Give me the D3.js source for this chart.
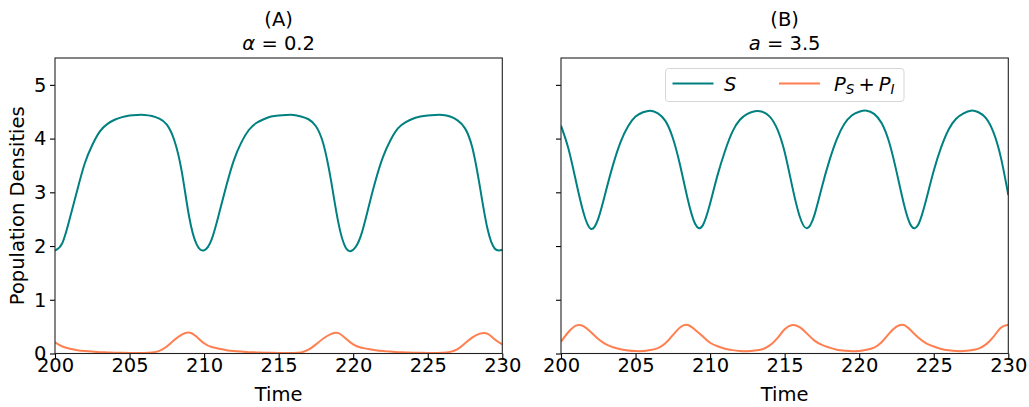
<!DOCTYPE html>
<html>
<head>
<meta charset="utf-8">
<script src="https://cdn.jsdelivr.net/npm/d3@7"></script>
<style>
body { margin: 0; background: #fff; }
text { font-family: "DejaVu Sans", sans-serif; fill: #000; }
</style>
</head>
<body>
<svg id="chart" width="1029" height="407"></svg>
<script>
// sample times (same grid for both panels)
var time = [200, 200.5, 201, 201.5, 202, 202.5, 203, 203.5, 204, 204.5,
    205, 205.5, 206, 206.5, 207, 207.5, 208, 208.5, 209, 209.5,
    210, 210.5, 211, 211.5, 212, 212.5, 213, 213.5, 214, 214.5,
    215, 215.5, 216, 216.5, 217, 217.5, 218, 218.5, 219, 219.5,
    220, 220.5, 221, 221.5, 222, 222.5, 223, 223.5, 224, 224.5,
    225, 225.5, 226, 226.5, 227, 227.5, 228, 228.5, 229, 229.5, 230];

// panel A (alpha = 0.2)
var sA = [1.915, 2.06, 2.52, 3.05, 3.54, 3.88, 4.13, 4.27, 4.35, 4.40,
    4.43, 4.44, 4.44, 4.42, 4.37, 4.26, 3.97, 3.39, 2.54, 2.03,
    1.92, 2.12, 2.60, 3.13, 3.60, 3.93, 4.16, 4.29, 4.36, 4.41,
    4.43, 4.44, 4.44, 4.41, 4.36, 4.23, 3.90, 3.24, 2.44, 1.97,
    1.93, 2.18, 2.69, 3.22, 3.66, 3.97, 4.19, 4.30, 4.37, 4.41,
    4.43, 4.44, 4.44, 4.41, 4.34, 4.19, 3.82, 3.10, 2.33, 1.95, 1.93];
var pA = [0.21, 0.13, 0.09, 0.06, 0.045, 0.035, 0.025, 0.02, 0.015, 0.012,
    0.01, 0.01, 0.01, 0.02, 0.05, 0.13, 0.25, 0.35, 0.39, 0.31,
    0.19, 0.12, 0.09, 0.06, 0.045, 0.035, 0.025, 0.02, 0.015, 0.012,
    0.01, 0.01, 0.01, 0.02, 0.07, 0.17, 0.28, 0.36, 0.38, 0.28,
    0.17, 0.11, 0.085, 0.06, 0.045, 0.035, 0.025, 0.02, 0.015, 0.012,
    0.01, 0.01, 0.012, 0.03, 0.08, 0.19, 0.30, 0.37, 0.37, 0.26, 0.17];

// panel B (a = 3.5)
var sB = [4.24, 3.81, 3.21, 2.63, 2.32, 2.51, 3.01, 3.52, 3.94, 4.23,
    4.41, 4.49, 4.52, 4.47, 4.33, 4.01, 3.49, 2.87, 2.41, 2.38,
    2.79, 3.32, 3.77, 4.13, 4.35, 4.46, 4.51, 4.50, 4.41, 4.18,
    3.75, 3.12, 2.56, 2.33, 2.58, 3.10, 3.59, 3.99, 4.27, 4.43,
    4.50, 4.52, 4.46, 4.29, 3.94, 3.39, 2.78, 2.37, 2.42, 2.87,
    3.40, 3.84, 4.17, 4.37, 4.47, 4.52, 4.49, 4.38, 4.12, 3.65, 2.95];
var pB = [0.22, 0.40, 0.52, 0.51, 0.40, 0.27, 0.175, 0.115, 0.08, 0.057,
    0.045, 0.045, 0.065, 0.10, 0.19, 0.34, 0.49, 0.53, 0.44, 0.32,
    0.20, 0.135, 0.09, 0.063, 0.047, 0.043, 0.055, 0.08, 0.15, 0.28,
    0.45, 0.53, 0.49, 0.37, 0.24, 0.16, 0.11, 0.07, 0.053, 0.042,
    0.048, 0.07, 0.11, 0.21, 0.37, 0.50, 0.53, 0.42, 0.29, 0.19,
    0.13, 0.085, 0.06, 0.045, 0.045, 0.06, 0.09, 0.17, 0.31, 0.48, 0.535];

var xTicks = [200, 205, 210, 215, 220, 225, 230];
var yTicks = [0, 1, 2, 3, 4, 5];
var panelLabels = ["(A)", "(B)"];
var paramSymbols = ["α", "a"];
var paramValues = ["0.2", "3.5"];
var seriesColors = ["#008080", "#ff7f50"];

var fontSize = 19.5;
var plotTop = 58;
var plotBottom = 353.5;
var plotWidth = 447.3;
var panelLeft = [55, 561];

var svg = d3.select("#chart");

var y = d3.scaleLinear().domain([0, 5.5]).range([plotBottom, plotTop]);

var panels = [
    { s: sA, p: pA },
    { s: sB, p: pB }
];

panels.forEach(function(panel, i) {
    var left = panelLeft[i];
    var x = d3.scaleLinear().domain([200, 230]).range([left, left + plotWidth]);

    var clipId = "clip" + i;
    svg.append("clipPath").attr("id", clipId)
        .append("rect")
        .attr("x", left).attr("y", plotTop)
        .attr("width", plotWidth).attr("height", plotBottom - plotTop);

    var line = d3.line()
        .x(function(d) { return x(d[0]); })
        .y(function(d) { return y(d[1]); })
        .curve(d3.curveNatural);

    [panel.s, panel.p].forEach(function(values, k) {
        svg.append("path")
            .datum(time.map(function(t, j) { return [t, values[j]]; }))
            .attr("clip-path", "url(#" + clipId + ")")
            .attr("fill", "none")
            .attr("stroke", seriesColors[k])
            .attr("stroke-width", 2)
            .attr("d", line);
    });

    // x axis
    var gx = svg.append("g")
        .attr("transform", "translate(0," + plotBottom + ")")
        .call(d3.axisBottom(x).tickValues(xTicks).tickSize(5)
            .tickFormat(d3.format("d")));
    gx.select(".domain").remove();
    gx.selectAll("line").attr("stroke", "#000").attr("stroke-width", 1.1);
    gx.selectAll("text").attr("y", 5).attr("font-size", fontSize)
        .style("font-family", "DejaVu Sans");

    // y axis
    var gy = svg.append("g")
        .attr("transform", "translate(" + left + ",0)")
        .call(d3.axisLeft(y).tickValues(yTicks).tickSize(5).tickPadding(3.5)
            .tickFormat(i === 0 ? d3.format("d") : function() { return ""; }));
    gy.select(".domain").remove();
    gy.selectAll("line").attr("stroke", "#000").attr("stroke-width", 1.1);
    gy.selectAll("text").attr("font-size", fontSize).style("font-family", "DejaVu Sans");

    // frame
    svg.append("rect")
        .attr("x", left).attr("y", plotTop)
        .attr("width", plotWidth).attr("height", plotBottom - plotTop)
        .attr("fill", "none")
        .attr("stroke", "#222")
        .attr("stroke-width", 1.1);

    // titles
    var cx = left + plotWidth / 2;
    svg.append("text")
        .attr("x", cx).attr("y", 25.5)
        .attr("text-anchor", "middle")
        .attr("font-size", fontSize)
        .text(panelLabels[i]);
    var t2 = svg.append("text")
        .attr("x", cx).attr("y", 50)
        .attr("text-anchor", "middle")
        .attr("font-size", fontSize);
    t2.append("tspan").attr("font-style", "italic").text(paramSymbols[i]);
    t2.append("tspan").text(" = " + paramValues[i]);

    svg.append("text")
        .attr("x", cx).attr("y", 401)
        .attr("text-anchor", "middle")
        .attr("font-size", fontSize)
        .text("Time");
});

svg.append("text")
    .attr("transform", "translate(24," + ((plotTop + plotBottom) / 2) + ") rotate(-90)")
    .attr("text-anchor", "middle")
    .attr("font-size", fontSize)
    .text("Population Densities");

// legend
var legend = svg.append("g");
legend.append("rect")
    .attr("x", 665.5).attr("y", 68.5)
    .attr("width", 238.5).attr("height", 33)
    .attr("rx", 3)
    .attr("fill", "#fff").attr("fill-opacity", 0.8)
    .attr("stroke", "#d6d6d6").attr("stroke-width", 1);
legend.append("line")
    .attr("x1", 672.5).attr("x2", 713.5).attr("y1", 83.5).attr("y2", 83.5)
    .attr("stroke", seriesColors[0]).attr("stroke-width", 2);
legend.append("text")
    .attr("x", 724).attr("y", 90.5)
    .attr("font-size", fontSize).attr("font-style", "italic")
    .text("S");
legend.append("line")
    .attr("x1", 779).attr("x2", 820).attr("y1", 83.5).attr("y2", 83.5)
    .attr("stroke", seriesColors[1]).attr("stroke-width", 2);
var lt = legend.append("text")
    .attr("x", 834).attr("y", 90.5)
    .attr("font-size", fontSize);
lt.append("tspan").attr("font-style", "italic").text("P");
lt.append("tspan").attr("font-style", "italic").attr("font-size", 13.6).attr("dy", 3).text("S");
lt.append("tspan").attr("dy", -3).attr("dx", 4).text("+");
lt.append("tspan").attr("font-style", "italic").attr("dx", 4).text("P");
lt.append("tspan").attr("font-style", "italic").attr("font-size", 13.6).attr("dy", 3).text("I");
</script>
</body>
</html>
